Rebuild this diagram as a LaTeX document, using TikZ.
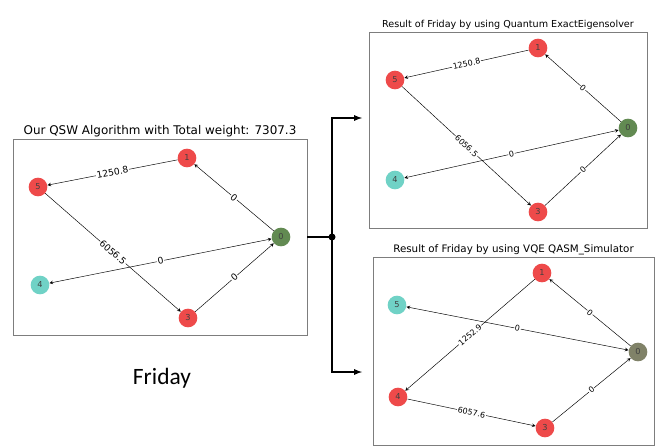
\documentclass[tikz,border=0pt]{standalone}
\usepackage{fontspec}
\setmainfont{DejaVu Sans}
\newfontfamily\dayfont{Carlito}
\usetikzlibrary{arrows, positioning, fit}
\definecolor{nodered}{RGB}{238, 74, 74}
\definecolor{nodegreen}{RGB}{98, 138, 82}
\definecolor{nodeolive}{RGB}{128, 130, 104}
\definecolor{nodecyan}{RGB}{112, 210, 198}
\definecolor{framegray}{RGB}{125, 125, 125}

\begin{document}
\begin{tikzpicture}[
    x = 0.03cm, y = -0.03cm,
    vertex/.style = {circle, minimum size=0.56cm, inner sep=0pt, text=black!75,
                     font=\fontsize{7}{8}\selectfont},
    redv/.style = {vertex, fill=nodered},
    greenv/.style = {vertex, fill=nodegreen},
    olivev/.style = {vertex, fill=nodeolive},
    cyanv/.style = {vertex, fill=nodecyan},
    panel/.style = {draw=framegray, line width=0.6pt, inner sep=0pt},
    title/.style = {font=\fontsize{8.2}{10}\selectfont, inner sep=1.5pt},
    edge/.style = {line width=0.4pt, ->, >=stealth},
    biedge/.style = {line width=0.4pt, <->, >=stealth},
    elabel/.style = {fill=white, inner sep=0.6pt, sloped, font=\fontsize{6.8}{8}\selectfont},
    flow/.style = {line width=1.3pt, ->, >=latex}
]
    \useasboundingbox (0,0) rectangle (657,447);

    % LEFT PANEL - QSW
    \node[panel, fit={(13,139) (307,335)}] (qsw) {};
    \node[title, above=0pt of qsw, font=\fontsize{10.2}{12}\selectfont]
        {Our QSW Algorithm with Total weight: 7307.3};
    \node[redv] (qsw1) at (187,158) {1};
    \node[redv] (qsw5) at (38,187) {5};
    \node[greenv] (qsw0) at (281,237) {0};
    \node[cyanv] (qsw4) at (40,285) {4};
    \node[redv] (qsw3) at (188,318) {3};

    \begin{scope}[elabel/.append style={font=\fontsize{7.8}{9}\selectfont}]
    \draw[edge] (qsw1) -- node[elabel] {1250.8} (qsw5);
    \draw[edge] (qsw0) -- node[elabel] {0} (qsw1);
    \draw[edge] (qsw5) -- node[elabel] {6056.5} (qsw3);
    \draw[biedge] (qsw4) -- node[elabel] {0} (qsw0);
    \draw[edge] (qsw3) -- node[elabel] {0} (qsw0);
    \end{scope}

    \node[font=\dayfont\fontsize{20}{24}\selectfont] (day) at (162,378) {Friday};

    % TOP RIGHT PANEL - ExactEigensolver
    \node[panel, fit={(369,32) (647,228)}] (ees) {};
    \node[title, above=0pt of ees] {Result of Friday by using Quantum ExactEigensolver};
    \node[redv] (ees1) at (538,48) {1};
    \node[redv] (ees5) at (395,80) {5};
    \node[greenv] (ees0) at (628,128) {0};
    \node[cyanv] (ees4) at (395,180) {4};
    \node[redv] (ees3) at (538,212) {3};

    \draw[edge] (ees1) -- node[elabel] {1250.8} (ees5);
    \draw[edge] (ees0) -- node[elabel] {0} (ees1);
    \draw[edge] (ees5) -- node[elabel] {6056.5} (ees3);
    \draw[biedge] (ees4) -- node[elabel] {0} (ees0);
    \draw[edge] (ees3) -- node[elabel] {0} (ees0);

    % BOTTOM RIGHT PANEL - VQE
    \node[panel, fit={(373,257) (654,445)}] (vqe) {};
    \node[title, above=0pt of vqe, font=\fontsize{8.8}{10}\selectfont]
        {Result of Friday by using VQE QASM\_Simulator};
    \node[redv] (vqe1) at (542,273) {1};
    \node[cyanv] (vqe5) at (397,305) {5};
    \node[olivev] (vqe0) at (638,352) {0};
    \node[redv] (vqe4) at (398,397) {4};
    \node[redv] (vqe3) at (545,428) {3};

    \draw[edge] (vqe1) -- node[elabel] {1252.9} (vqe4);
    \draw[edge] (vqe0) -- node[elabel] {0} (vqe1);
    \draw[biedge] (vqe5) -- node[elabel] {0} (vqe0);
    \draw[edge] (vqe4) -- node[elabel] {6057.6} (vqe3);
    \draw[edge] (vqe3) -- node[elabel] {0} (vqe0);

    % SPLIT CONNECTOR
    \coordinate (split) at (332,237);
    \coordinate (eesin) at (362,118);
    \coordinate (vqein) at (362,372);
    \draw[line width=1.3pt] (qsw.east |- split) -- (split);
    \fill (split) circle (3.5);
    \draw[flow] (split) |- (eesin);
    \draw[flow] (split) |- (vqein);

\end{tikzpicture}
\end{document}
